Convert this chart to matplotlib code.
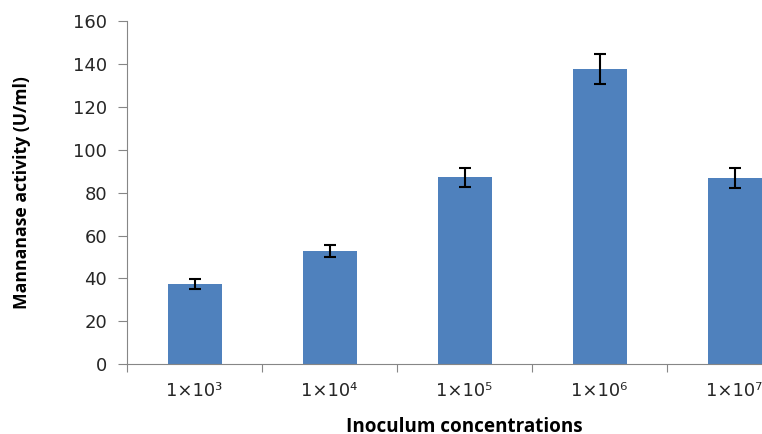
import numpy as np
import matplotlib.pyplot as plt

plt.rcParams['font.family'] = ['DejaVu Sans']

exponents = ['³', '⁴', '⁵', '⁶', '⁷']
categories = ['1×10' + e for e in exponents]
activity = [37.3, 52.8, 87.2, 137.5, 86.7]
errors = [2.3, 2.8, 4.5, 7.0, 4.6]

fig = plt.figure(figsize=(7.62, 4.34), dpi=100)
ax = fig.add_axes([0.1667, 0.161, 0.886, 0.790])

x = np.arange(len(categories))
ax.bar(x, activity, width=0.4, color='#4F81BD', zorder=2)
ax.errorbar(x, activity, yerr=errors, fmt='none', ecolor='black',
            elinewidth=1.5, capsize=4, capthick=1.5, zorder=3)

ax.set_xlim(-0.5, 4.5)
ax.set_ylim(0, 160)
ax.set_yticks(range(0, 161, 20))

# category ticks sit between the bars, labels in the middle
ax.set_xticks(np.arange(-0.5, 5, 1))
ax.set_xticklabels([])
ax.set_xticks(x, minor=True)
ax.set_xticklabels(categories, minor=True)
ax.tick_params(axis='x', which='minor', length=0, pad=13)
ax.tick_params(axis='x', which='major', length=6, color='#868686', direction='out')
ax.tick_params(axis='y', length=6.5, color='#868686', direction='out', pad=8)
ax.tick_params(which='both', labelsize=13, labelcolor='#262626')

for s in ['top', 'right']:
    ax.spines[s].set_visible(False)
for s in ['left', 'bottom']:
    ax.spines[s].set_color('#868686')

ax.set_ylabel('Mannanase activity (U/ml)', fontsize=12.7, fontweight='bold',
              family='Open Sans', labelpad=30)
ax.set_xlabel('Inoculum concentrations', fontsize=13.6, fontweight='bold',
              family='Open Sans', labelpad=12)

plt.savefig('out.png', dpi=100)
